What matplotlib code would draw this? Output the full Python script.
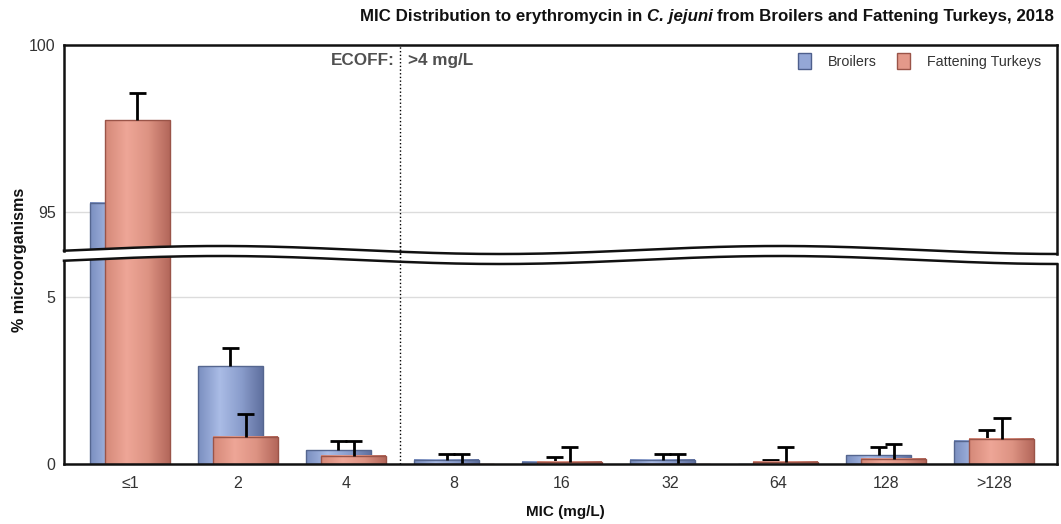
import numpy as np
import matplotlib
matplotlib.use('Agg')
import matplotlib.pyplot as plt
from matplotlib.colors import LinearSegmentedColormap
from matplotlib.patches import Polygon, Patch
from matplotlib.lines import Line2D

plt.rcParams['font.family'] = ['Liberation Sans', 'DejaVu Sans']

# values (% of isolates), upper = top of error bar
categories = ['≤1', '2', '4', '8', '16', '32', '64', '128', '>128']
broilers = [95.27, 2.92, 0.41, 0.13, 0.06, 0.13, 0.0, 0.26, 0.70]
broilers_upper = [96.0, 3.48, 0.69, 0.31, 0.22, 0.31, 0.12, 0.51, 1.01]
turkeys = [97.75, 0.82, 0.25, 0.0, 0.06, 0.0, 0.07, 0.15, 0.75]
turkeys_upper = [98.55, 1.50, 0.69, 0.31, 0.52, 0.31, 0.51, 0.61, 1.39]
ecoff_pos = 2.5

W, H = 1061, 524
fig = plt.figure(figsize=(W / 100, H / 100), dpi=100)


def fx(x):
    return x / W


def fy(y):
    return 1 - y / H


def wave(x):
    # upper edge of the axis break, pixel coords
    return 250 - 4 * np.cos(2 * np.pi * (x - 220) / 560)


left, right, top, bottom = 64, 1057, 45, 464
ax_top = fig.add_axes([fx(left), fy(258), (right - left) / W, (258 - top) / H])
ax_bot = fig.add_axes([fx(left), fy(bottom), (right - left) / W, (bottom - 242) / H])

blue_cmap = LinearSegmentedColormap.from_list('b', ['#7b8fc0', '#aabce6', '#8a9dcc', '#60709f'])
red_cmap = LinearSegmentedColormap.from_list('r', ['#d58979', '#eea697', '#dd9383', '#b4675b'])
grad = np.linspace(0, 1, 64).reshape(1, -1)

x = np.arange(len(categories))
w = 0.6
off = 0.07
cap = 0.08


def draw_series(ax, xs, vals, upper, cmap, edge, z):
    bars = ax.bar(xs, vals, w, facecolor='none', edgecolor=edge, linewidth=1, zorder=z + 0.5)
    for b in bars:
        if b.get_height() <= 0:
            continue
        x0 = b.get_x()
        ax.imshow(grad, cmap=cmap, aspect='auto', interpolation='bilinear', zorder=z,
                  extent=(x0, x0 + b.get_width(), 0, b.get_height()))
    # one-sided error bars: stem plus top cap only
    ax.vlines(xs, vals, upper, color='black', lw=2, zorder=z + 0.7)
    ax.hlines(upper, xs - cap, xs + cap, color='black', lw=2, zorder=z + 0.7)


for ax in (ax_top, ax_bot):
    ax.set_facecolor('none')
    draw_series(ax, x - off, broilers, broilers_upper, blue_cmap, '#55668f', 2)
    draw_series(ax, x + off, turkeys, turkeys_upper, red_cmap, '#9a5448', 4)
    ax.set_xlim(-0.61, 8.58)
    for s in ax.spines.values():
        s.set_visible(False)
    ax.tick_params(length=0, labelsize=11.5, labelcolor='#333333')
    ax.tick_params(axis='y', pad=6)
    ax.yaxis.grid(True, color='#dcdcdc', lw=1)
    ax.set_axisbelow(True)

ax_top.set_ylim(100 - 213 / 33.4, 100)
ax_top.set_yticks([95, 100])
ax_top.set_xticks([])
ax_bot.set_ylim(0, 222 / 33.4)
ax_bot.set_yticks([0, 5])
ax_bot.set_xticks(x)
ax_bot.set_xticklabels(categories)
ax_bot.tick_params(axis='x', pad=9)

# clip each half at its wavy edge
xp = np.linspace(40, 1080, 300)
clip_top = Polygon(np.column_stack([fx(np.r_[xp, 1080, 40]), fy(np.r_[wave(xp), 20, 20])]),
                   closed=True, transform=fig.transFigure)
clip_bot = Polygon(np.column_stack([fx(np.r_[xp, 1080, 40]), fy(np.r_[wave(xp) + 10, 500, 500])]),
                   closed=True, transform=fig.transFigure)
for ax, clip in ((ax_top, clip_top), (ax_bot, clip_bot)):
    for a in ax.images + ax.patches + ax.lines + ax.collections:
        a.set_clip_path(clip)
    ax.axvline(ecoff_pos, color='black', ls=':', lw=1, zorder=6)

# frame with the break
xs = np.linspace(left, right, 300)
frame = [
    ([left, right], [top, top]),
    ([left, left], [top, wave(left)]),
    ([right, right], [top, wave(right)]),
    ([left, left], [wave(left) + 10, bottom]),
    ([right, right], [wave(right) + 10, bottom]),
    ([left, right], [bottom, bottom]),
    (xs, wave(xs)),
    (xs, wave(xs) + 10),
]
for lx, ly in frame:
    fig.add_artist(Line2D(fx(np.asarray(lx, float)), fy(np.asarray(ly, float)),
                          color='#111111', lw=1.8, transform=fig.transFigure))

fig.text(fx(395), fy(61), 'ECOFF:', ha='right', va='center', fontsize=12.3,
         fontweight='bold', color='#505050')
fig.text(fx(408), fy(61), '>4 mg/L', ha='left', va='center', fontsize=12.3,
         fontweight='bold', color='#505050')

ax_top.legend(handles=[Patch(fc='#94a7d6', ec='#4e5f8c', label='Broilers'),
                       Patch(fc='#e3998a', ec='#9a5448', label='Fattening Turkeys')],
              loc='center right', bbox_to_anchor=(fx(1041), fy(61)), bbox_transform=fig.transFigure,
              ncol=2, frameon=False, fontsize=10.3, handlelength=0.9, handleheight=1.3,
              columnspacing=1.4, handletextpad=1.2, borderpad=0, borderaxespad=0,
              labelcolor='#333333')

# title with italic species name, built right to left
renderer = fig.canvas.get_renderer()
parts = [('MIC Distribution to erythromycin in', 'normal'), ('C. jejuni', 'italic'),
         ('from Broilers and Fattening Turkeys, 2018', 'normal')]
xr = 1054
for txt, style in reversed(parts):
    t = fig.text(fx(xr), fy(16), txt, ha='right', va='center', fontsize=12.2,
                 fontweight='bold', style=style, color='#111111')
    bb = t.get_window_extent(renderer)
    xr = bb.x0 - 4.5

fig.text(fx(20), fy(260), '% microorganisms', rotation=90, ha='center', va='center',
         fontsize=11.6, fontweight='bold', color='#111111')
fig.text(fx(565), fy(512), 'MIC (mg/L)', ha='center', va='center', fontsize=11,
         fontweight='bold', color='#111111')

fig.savefig('out.png', dpi=100)
